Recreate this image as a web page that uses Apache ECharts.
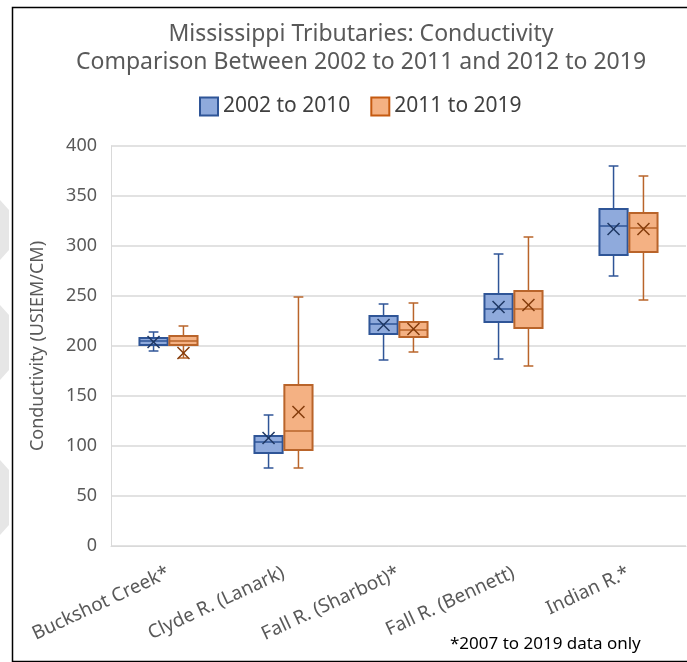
<!DOCTYPE html>
<html>
<head>
<meta charset="utf-8">
<script src="https://cdn.jsdelivr.net/npm/echarts@6/dist/echarts.min.js"></script>
<style>
  html, body { margin: 0; padding: 0; background: #fff; }
  #chart { width: 687px; height: 662px; }
</style>
</head>
<body>
<div id="chart"></div>
<script>
// tributaries
var categories = ['Buckshot Creek*', 'Clyde R. (Lanark)', 'Fall R. (Sharbot)*', 'Fall R. (Bennett)', 'Indian R.*'];
var yTicks = [0, 50, 100, 150, 200, 250, 300, 350, 400];

// 2002 to 2010
var earlyMin = [195, 78, 186, 187, 270];
var earlyQ1 = [201, 93, 212, 224, 291];
var earlyMedian = [205, 104, 222, 237, 320];
var earlyQ3 = [208, 110, 230, 252, 337];
var earlyMax = [214, 131, 242, 292, 380];
var earlyMean = [204, 108, 221, 239, 317];

// 2011 to 2019
var lateMin = [188, 78, 194, 180, 246];
var lateQ1 = [201, 96, 209, 218, 294];
var lateMedian = [205, 115, 216, 237, 318];
var lateQ3 = [210, 161, 224, 255, 333];
var lateMax = [220, 249, 243, 309, 370];
var lateMean = [193, 134, 217, 241, 317];

var FONT = 'Noto Sans';

function rows(mn, q1, md, q3, mx, mean) {
  return categories.map(function (c, i) {
    return [i, mn[i], q1[i], md[i], q3[i], mx[i], mean[i]];
  });
}

// draws one box with whiskers and the mean cross, shifted by a part of the band
function boxRenderer(shift, fill, stroke, markColor) {
  return function (params, api) {
    var cat = api.value(0);
    var band = api.size([1, 0])[0];
    var cx = api.coord([cat, 0])[0] + band * shift;
    var w = band * 0.245;
    var cap = band * 0.085;
    var yMin = api.coord([cat, api.value(1)])[1];
    var yQ1 = api.coord([cat, api.value(2)])[1];
    var yMed = api.coord([cat, api.value(3)])[1];
    var yQ3 = api.coord([cat, api.value(4)])[1];
    var yMax = api.coord([cat, api.value(5)])[1];
    var yMean = api.coord([cat, api.value(6)])[1];
    var line = { stroke: stroke, lineWidth: 1.5 };
    var m = 6;
    return {
      type: 'group',
      children: [
        { type: 'line', shape: { x1: cx, y1: yMax, x2: cx, y2: yQ3 }, style: line },
        { type: 'line', shape: { x1: cx, y1: yQ1, x2: cx, y2: yMin }, style: line },
        { type: 'line', shape: { x1: cx - cap / 2, y1: yMax, x2: cx + cap / 2, y2: yMax }, style: line },
        { type: 'line', shape: { x1: cx - cap / 2, y1: yMin, x2: cx + cap / 2, y2: yMin }, style: line },
        { type: 'rect', shape: { x: cx - w / 2, y: yQ3, width: w, height: yQ1 - yQ3 },
          style: { fill: fill, stroke: stroke, lineWidth: 2 } },
        { type: 'line', shape: { x1: cx - w / 2, y1: yMed, x2: cx + w / 2, y2: yMed }, style: line },
        { type: 'line', shape: { x1: cx - m, y1: yMean - m, x2: cx + m, y2: yMean + m },
          style: { stroke: markColor, lineWidth: 1.5 } },
        { type: 'line', shape: { x1: cx - m, y1: yMean + m, x2: cx + m, y2: yMean - m },
          style: { stroke: markColor, lineWidth: 1.5 } }
      ]
    };
  };
}

var chart = echarts.init(document.getElementById('chart'));

var option = {
  backgroundColor: '#fff',
  textStyle: { fontFamily: FONT },
  animation: false,
  title: {
    text: 'Mississippi Tributaries: Conductivity\nComparison Between 2002 to 2011 and 2012 to 2019',
    left: 356,
    textAlign: 'center',
    top: 15,
    textStyle: { fontFamily: FONT, fontSize: 23, fontWeight: 'normal', color: '#595959', lineHeight: 28 }
  },
  legend: {
    top: 91,
    left: 194,
    itemWidth: 18,
    itemHeight: 18,
    itemGap: 20,
    icon: 'rect',
    textStyle: { fontFamily: FONT, fontSize: 21, color: '#404040' },
    data: ['2002 to 2010', '2011 to 2019']
  },
  grid: { left: 111, right: 1, top: 146, bottom: 116 },
  xAxis: {
    type: 'category',
    data: categories,
    axisLine: { lineStyle: { color: '#d9d9d9' } },
    axisTick: { show: false },
    axisLabel: { interval: 0, rotate: 25, fontSize: 19, color: '#595959', margin: 26 }
  },
  yAxis: {
    type: 'value',
    min: yTicks[0],
    max: yTicks[yTicks.length - 1],
    interval: 50,
    name: 'Conductivity (USIEM/CM)',
    nameLocation: 'middle',
    nameGap: 64,
    nameTextStyle: { fontSize: 18, color: '#595959' },
    axisLine: { show: true, lineStyle: { color: '#d9d9d9' } },
    axisTick: { show: false },
    axisLabel: { fontSize: 18, color: '#595959', margin: 14 },
    splitLine: { lineStyle: { color: '#d9d9d9', width: 1.5 } }
  },
  graphic: [
    { type: 'polygon', z: -1, shape: { points: [[0, 200], [9, 210], [9, 250], [0, 260]], smooth: 0 }, style: { fill: '#e6e6e6' } },
    { type: 'polygon', z: -1, shape: { points: [[0, 305], [9, 315], [9, 370], [0, 380]], smooth: 0 }, style: { fill: '#e6e6e6' } },
    { type: 'polygon', z: -1, shape: { points: [[0, 460], [9, 470], [9, 525], [0, 535]], smooth: 0 }, style: { fill: '#e6e6e6' } },
    { type: 'rect', left: 10, top: 5, shape: { width: 700, height: 654 },
      style: { fill: 'none', stroke: '#000', lineWidth: 1.5 } },
    { type: 'text', left: 450, top: 636,
      style: { text: '*2007 to 2019 data only', font: '17px "Noto Sans"', fill: '#000' } }
  ],
  series: [
    {
      name: '2002 to 2010',
      type: 'custom',
      itemStyle: { color: '#8faadc', borderColor: '#2f5597', borderWidth: 1.5 },
      renderItem: boxRenderer(-0.13, '#8faadc', '#2f5597', '#1f3864'),
      encode: { x: 0, y: [1, 2, 3, 4, 5, 6] },
      data: rows(earlyMin, earlyQ1, earlyMedian, earlyQ3, earlyMax, earlyMean)
    },
    {
      name: '2011 to 2019',
      type: 'custom',
      itemStyle: { color: '#f4b183', borderColor: '#c55a11', borderWidth: 1.5 },
      renderItem: boxRenderer(0.13, '#f4b183', '#b9642a', '#843c0c'),
      encode: { x: 0, y: [1, 2, 3, 4, 5, 6] },
      data: rows(lateMin, lateQ1, lateMedian, lateQ3, lateMax, lateMean)
    }
  ]
};

chart.setOption(option);
</script>
</body>
</html>
